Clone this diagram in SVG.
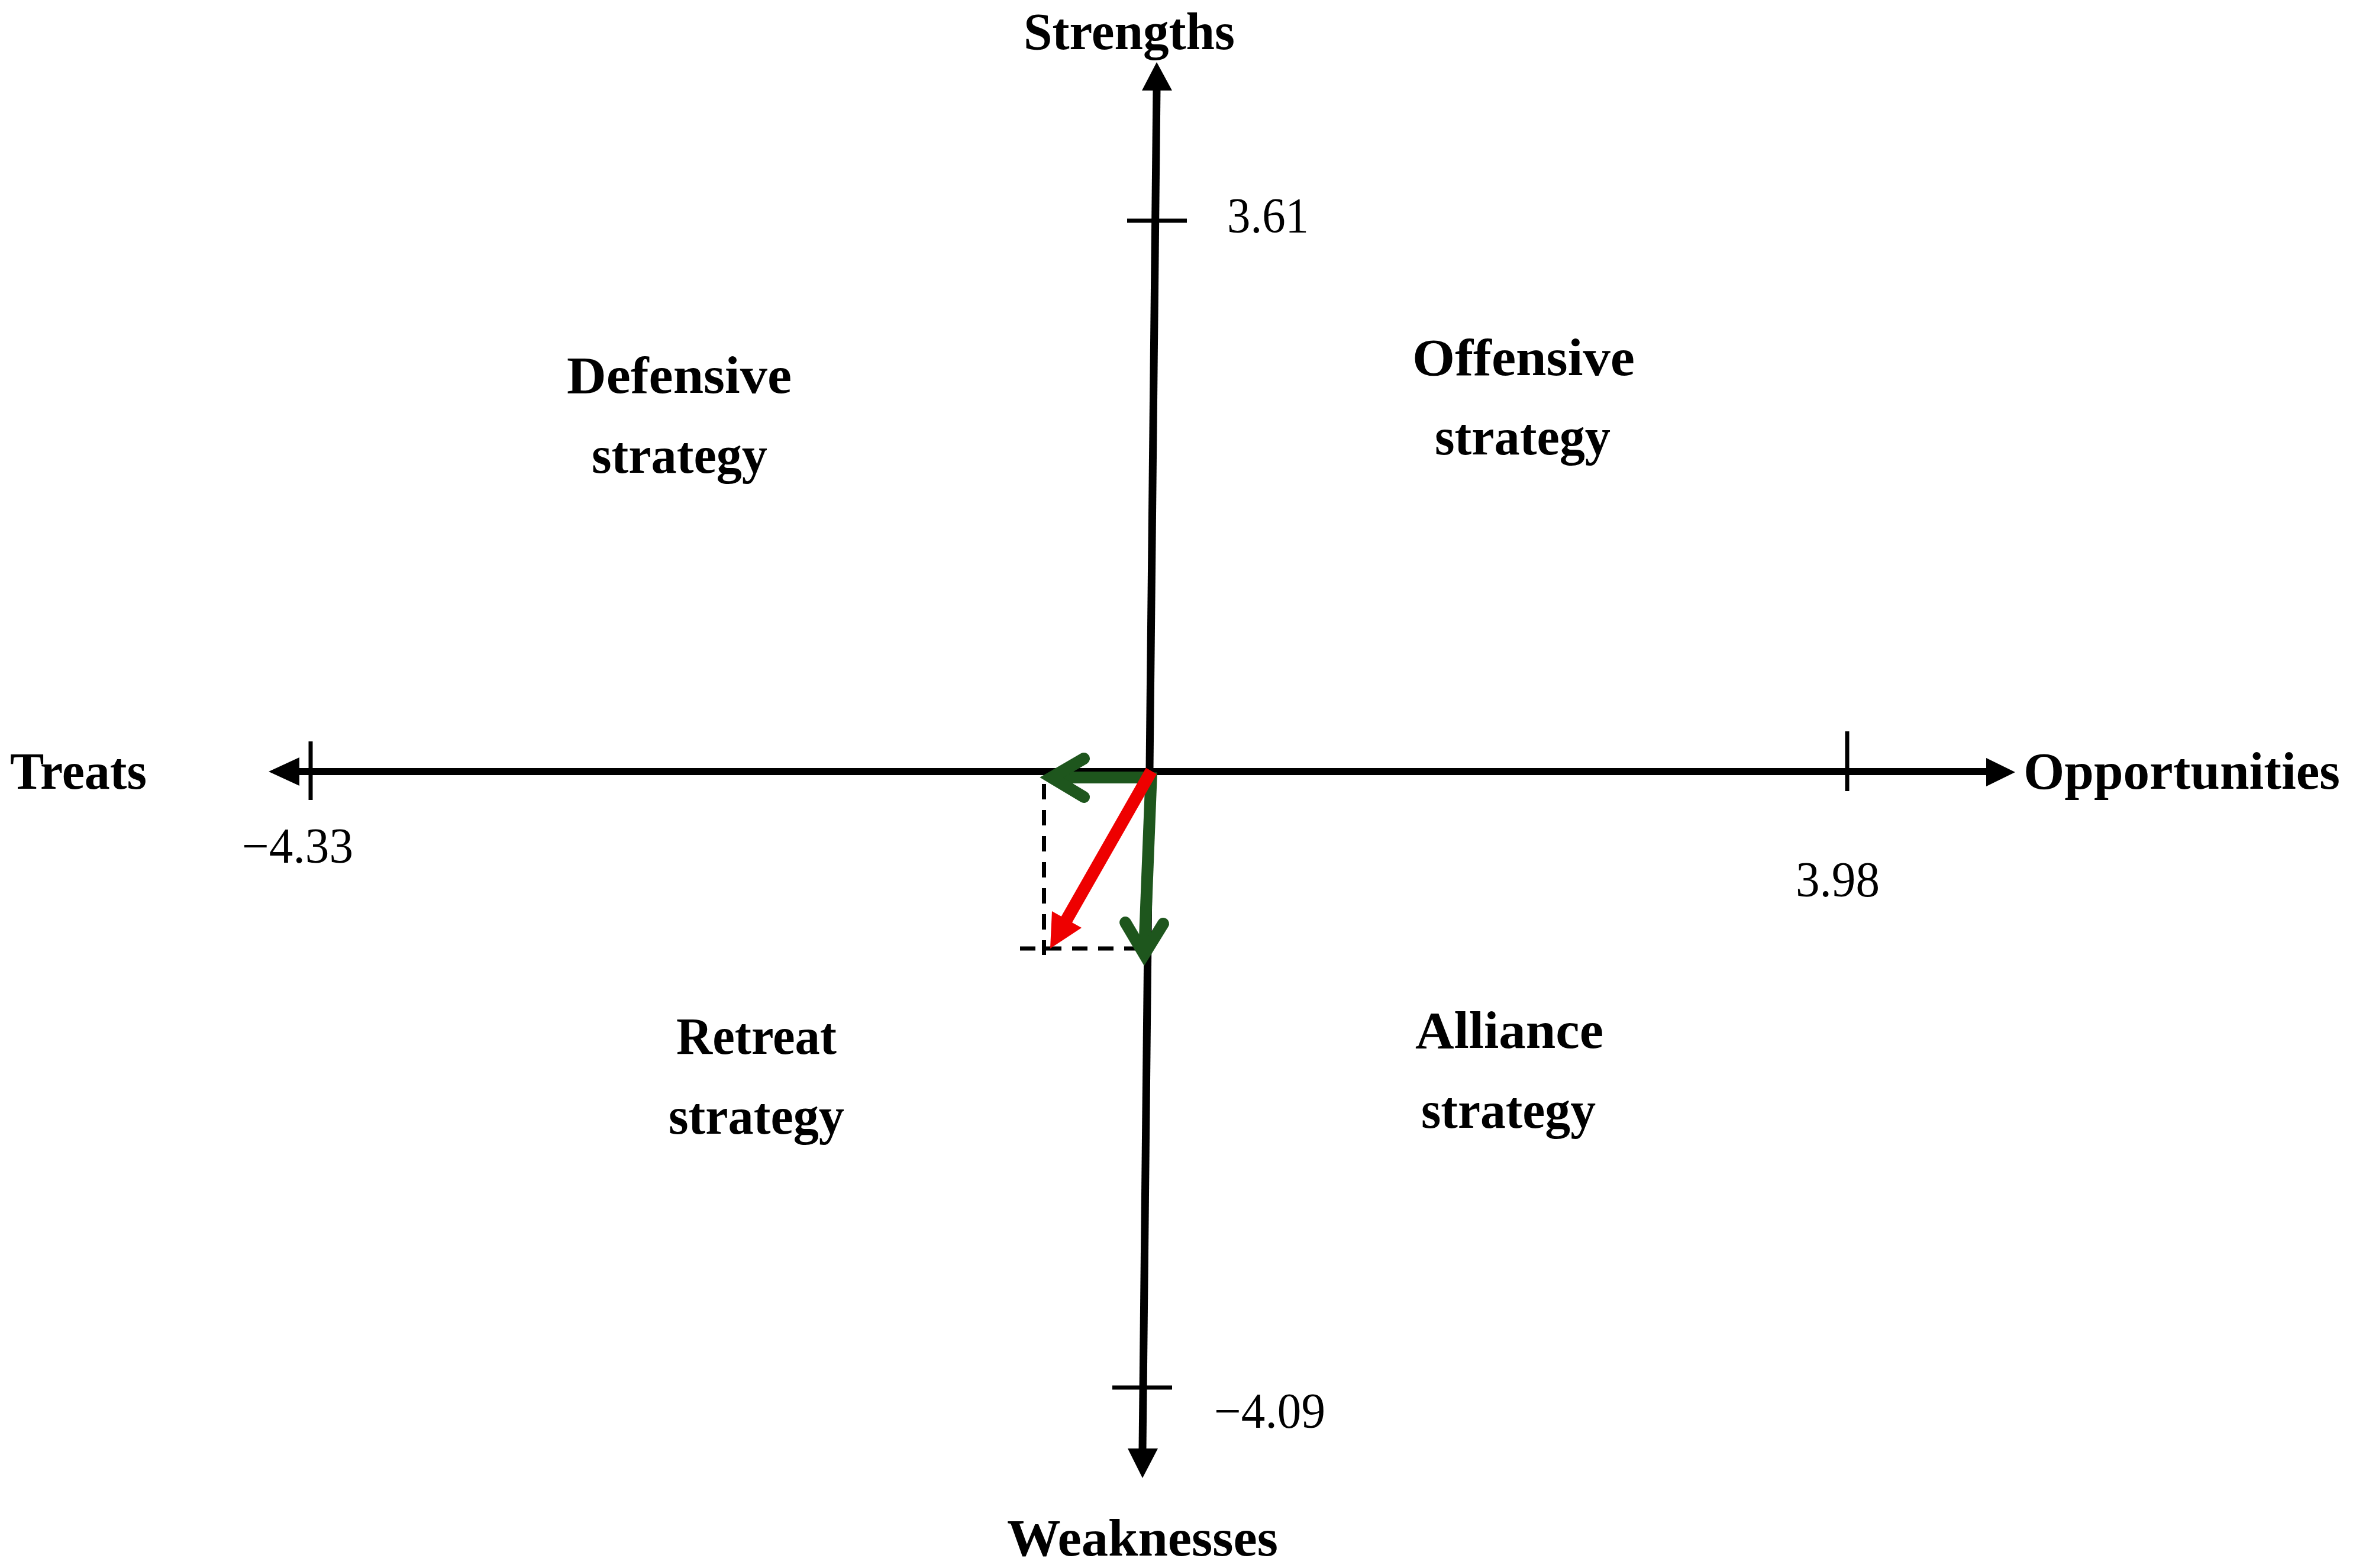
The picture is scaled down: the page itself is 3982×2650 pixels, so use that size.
<svg xmlns="http://www.w3.org/2000/svg" width="3982" height="2650" viewBox="0 0 3982 2650">
<style>
.lbl{font-family:"Liberation Serif","Times New Roman",serif;font-weight:bold;font-size:88px;fill:#000}
.num{font-family:"Liberation Serif","Times New Roman",serif;font-size:84px;fill:#000}
.axis{stroke:#000;stroke-width:12;fill:none}
.tick{stroke:#000;stroke-width:7;fill:none}
.dash{stroke:#000;stroke-width:7;fill:none;stroke-dasharray:26 18}
.green{stroke:#1e561d;stroke-width:20;fill:none}
.chev{stroke:#1e561d;stroke-width:20;fill:none;stroke-linecap:round;stroke-linejoin:miter;stroke-miterlimit:10}
</style>
<rect width="3982" height="2650" fill="#fff"/>
<g id="connectors">
  <g id="axis-h">
    <line class="axis" x1="500" y1="1304" x2="3360" y2="1304"/>
    <polygon points="454,1304 506,1280 506,1328" fill="#000"/>
    <polygon points="3406,1305 3357,1281 3357,1329" fill="#000"/>
    <line class="tick" x1="525" y1="1253" x2="525" y2="1352"/>
    <line class="tick" x1="3122" y1="1236" x2="3122" y2="1337"/>
  </g>
  <g id="axis-v">
    <line class="axis" x1="1955" y1="150" x2="1931" y2="2450" style="stroke-width:13"/>
    <polygon points="1955,105 1930,153 1981,153" fill="#000"/>
    <polygon points="1931,2498 1906,2448 1957,2448" fill="#000"/>
    <line class="tick" x1="1905" y1="373" x2="2006" y2="373"/>
    <line class="tick" x1="1880" y1="2345" x2="1981" y2="2345"/>
  </g>
  <g id="projections">
    <line class="dash" x1="1764.5" y1="1325" x2="1764.5" y2="1614"/>
    <line class="dash" x1="1724" y1="1603" x2="1945" y2="1603"/>
  </g>
  <g id="green-arrows">
    <line class="green" x1="1948" y1="1314" x2="1778" y2="1314"/>
    <polyline class="chev" points="1832,1282 1777,1314 1832,1347"/>
    <line class="green" x1="1946" y1="1305" x2="1934" y2="1610"/>
    <polyline class="chev" points="1902,1559 1934,1613 1966,1561"/>
  </g>
  <g id="red-arrow">
    <line x1="1946" y1="1303" x2="1800" y2="1559" stroke="#ee0000" stroke-width="21"/>
    <polygon points="1775,1603 1778,1540 1828,1568" fill="#ee0000"/>
  </g>
</g>
<g id="label-strengths"><text class="lbl" x="1730" y="83" textLength="357" lengthAdjust="spacingAndGlyphs">Strengths</text></g>
<g id="label-weaknesses"><text class="lbl" x="1702" y="2629" textLength="458" lengthAdjust="spacingAndGlyphs">Weaknesses</text></g>
<g id="label-treats"><text class="lbl" x="17" y="1333" textLength="231" lengthAdjust="spacingAndGlyphs">Treats</text></g>
<g id="label-opportunities"><text class="lbl" x="3420" y="1333" textLength="535" lengthAdjust="spacingAndGlyphs">Opportunities</text></g>
<g id="tick-3.61"><text class="num" x="2074" y="393" textLength="138" lengthAdjust="spacingAndGlyphs">3.61</text></g>
<g id="tick-4.09"><text class="num" x="2052" y="2413" textLength="188" lengthAdjust="spacingAndGlyphs">−4.09</text></g>
<g id="tick-4.33"><text class="num" x="409" y="1458" textLength="188" lengthAdjust="spacingAndGlyphs">−4.33</text></g>
<g id="tick-3.98"><text class="num" x="3035" y="1515" textLength="142" lengthAdjust="spacingAndGlyphs">3.98</text></g>
<g id="quadrant-defensive">
  <text class="lbl" x="958" y="664" textLength="380" lengthAdjust="spacingAndGlyphs">Defensive</text>
  <text class="lbl" x="1000" y="799" textLength="297" lengthAdjust="spacingAndGlyphs">strategy</text>
</g>
<g id="quadrant-offensive">
  <text class="lbl" x="2387" y="634" textLength="376" lengthAdjust="spacingAndGlyphs">Offensive</text>
  <text class="lbl" x="2425" y="768" textLength="297" lengthAdjust="spacingAndGlyphs">strategy</text>
</g>
<g id="quadrant-retreat">
  <text class="lbl" x="1143" y="1781" textLength="271" lengthAdjust="spacingAndGlyphs">Retreat</text>
  <text class="lbl" x="1130" y="1916" textLength="297" lengthAdjust="spacingAndGlyphs">strategy</text>
</g>
<g id="quadrant-alliance">
  <text class="lbl" x="2392" y="1771" textLength="318" lengthAdjust="spacingAndGlyphs">Alliance</text>
  <text class="lbl" x="2402" y="1906" textLength="295" lengthAdjust="spacingAndGlyphs">strategy</text>
</g>
</svg>
